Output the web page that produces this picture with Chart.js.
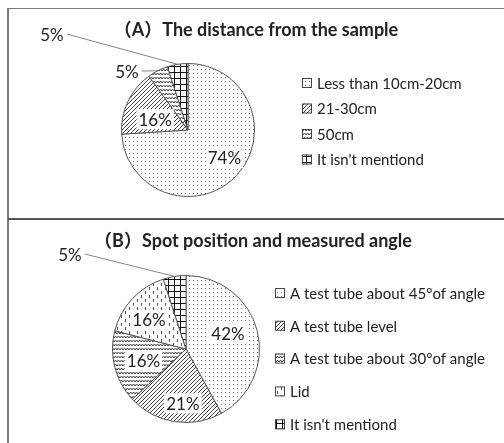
<!DOCTYPE html>
<html>
<head>
<meta charset="utf-8">
<script src="https://cdn.jsdelivr.net/npm/chart.js@4"></script>
<style>
  body { margin: 0; background: #fff; }
  #wrap { position: relative; width: 504px; height: 443px; overflow: hidden; }
  .panel { position: absolute; left: 0; width: 504px; }
  .line { position: absolute; background: #7a7a7a; }
</style>
</head>
<body>
<div id="wrap">
  <div class="panel" style="top:0;height:219px"><canvas id="chartA"></canvas></div>
  <div class="panel" style="top:219px;height:224px"><canvas id="chartB"></canvas></div>
  <div class="line" style="left:8px;top:8px;width:496px;height:1px"></div>
  <div class="line" style="left:7px;top:8px;width:2px;height:435px"></div>
  <div class="line" style="left:8px;top:218px;width:496px;height:2px;background:#555"></div>
</div>
<script>
// Datos de los dos gráficos de pastel
const titleA = '（A）The distance from the sample';
const labelsA = ['Less than 10cm-20cm', '21-30cm', '50cm', "It isn't mentiond"];
const valuesA = [74, 16, 5, 5];
const patternsA = ['dots', 'diag', 'wave', 'grid'];

const titleB = '（B）Spot position and measured angle';
const labelsB = ['A test tube about 45°of angle', 'A test tube level', 'A test tube about 30°of angle', 'Lid', "It isn't mentiond"];
const valuesB = [42, 21, 16, 16, 5];
const patternsB = ['dots', 'diag', 'wave', 'lid', 'grid'];

const FONT = 'Lato, "Noto Sans CJK JP", sans-serif';

// Crea los patrones de relleno (estilo Excel en blanco y negro)
function makePattern(kind) {
    const c = document.createElement('canvas');
    const g = c.getContext('2d');
    if (kind === 'dots') {
        c.width = 4; c.height = 4;
        g.fillStyle = '#fff'; g.fillRect(0, 0, 4, 4);
        g.fillStyle = '#7a7a7a';
        g.fillRect(1, 1, 1, 1);
    } else if (kind === 'diag') {
        c.width = 4; c.height = 4;
        g.fillStyle = '#fff'; g.fillRect(0, 0, 4, 4);
        g.strokeStyle = '#444'; g.lineWidth = 1;
        g.beginPath();
        g.moveTo(-1, 5); g.lineTo(5, -1);
        g.moveTo(-1, 1); g.lineTo(1, -1);
        g.moveTo(3, 5); g.lineTo(5, 3);
        g.stroke();
    } else if (kind === 'wave') {
        c.width = 6; c.height = 4;
        g.fillStyle = '#fff'; g.fillRect(0, 0, 6, 4);
        g.strokeStyle = '#444'; g.lineWidth = 1;
        g.beginPath();
        g.moveTo(0, 3); g.lineTo(1.5, 1); g.lineTo(3, 3); g.lineTo(4.5, 1); g.lineTo(6, 3);
        g.stroke();
    } else if (kind === 'grid') {
        c.width = 6; c.height = 6;
        g.fillStyle = '#fff'; g.fillRect(0, 0, 6, 6);
        g.fillStyle = '#111';
        g.fillRect(0, 0, 6, 1);
        g.fillRect(0, 0, 1, 6);
    } else if (kind === 'lid') {
        c.width = 8; c.height = 8;
        g.fillStyle = '#fff'; g.fillRect(0, 0, 8, 8);
        g.fillStyle = '#555';
        g.fillRect(1, 0, 1, 3);
        g.fillRect(5, 4, 1, 3);
    }
    return g.createPattern(c, 'repeat');
}

// Plugin: título, leyenda con muestras de patrón y etiquetas de porcentaje
const pieDecor = {
    id: 'pieDecor',
    afterDraw(chart, args, opts) {
        const ctx = chart.ctx;
        const meta = chart.getDatasetMeta(0);
        const ds = chart.data.datasets[0];
        ctx.save();

        // título
        ctx.fillStyle = '#222';
        ctx.font = 'bold 18px ' + FONT;
        ctx.textAlign = 'center';
        ctx.textBaseline = 'alphabetic';
        ctx.fillText(opts.title, opts.titleX, opts.titleY);

        // leyenda
        ctx.font = '15px ' + FONT;
        ctx.textAlign = 'left';
        ctx.textBaseline = 'middle';
        chart.data.labels.forEach((lab, i) => {
            const y = opts.legendY + i * opts.legendGap;
            ctx.fillStyle = ds.backgroundColor[i];
            ctx.fillRect(opts.legendX, y - 5, 10, 10);
            ctx.strokeStyle = '#444';
            ctx.lineWidth = 1;
            ctx.strokeRect(opts.legendX + 0.5, y - 4.5, 9, 9);
            ctx.fillStyle = '#222';
            ctx.fillText(lab, opts.legendX + 15, y + 1);
        });

        // etiquetas
        ctx.font = '17px ' + FONT;
        ctx.textAlign = 'center';
        meta.data.forEach((arc, i) => {
            const p = arc.getProps(['x', 'y', 'startAngle', 'endAngle', 'outerRadius']);
            const mid = (p.startAngle + p.endAngle) / 2;
            const text = chart.data.datasets[0].data[i] + '%';
            const pos = opts.labelPos[i];
            if (pos.out) {
                const lx = pos.out[0], ly = pos.out[1];
                const w = ctx.measureText(text).width;
                ctx.strokeStyle = '#666';
                ctx.lineWidth = 0.8;
                ctx.beginPath();
                ctx.moveTo(lx + w / 2 + 3, ly - 1);
                ctx.lineTo(p.x + Math.cos(mid) * p.outerRadius, p.y + Math.sin(mid) * p.outerRadius);
                ctx.stroke();
                ctx.fillStyle = '#222';
                ctx.fillText(text, lx, ly + 1);
            } else {
                const r = p.outerRadius * pos.r;
                const x = p.x + Math.cos(mid + (pos.da || 0)) * r;
                const y = p.y + Math.sin(mid + (pos.da || 0)) * r;
                const w = ctx.measureText(text).width;
                ctx.fillStyle = '#fff';
                ctx.fillRect(x - w / 2 - 2, y - 10, w + 4, 20);
                ctx.fillStyle = '#222';
                ctx.fillText(text, x, y + 1);
            }
        });
        ctx.restore();
    }
};

function crearPastel(id, labels, values, patterns, decor, padding) {
    const ctx = document.getElementById(id).getContext('2d');
    return new Chart(ctx, {
        type: 'pie',
        data: {
            labels: labels,
            datasets: [{
                data: values,
                backgroundColor: patterns.map(makePattern),
                borderColor: '#555',
                borderWidth: 1
            }]
        },
        options: {
            responsive: true,
            maintainAspectRatio: false,
            animation: false,
            layout: { padding: padding },
            plugins: {
                legend: { display: false },
                tooltip: { enabled: false },
                pieDecor: decor
            }
        },
        plugins: [pieDecor]
    });
}

crearPastel('chartA', labelsA, valuesA, patternsA, {
    title: titleA, titleX: 256, titleY: 36,
    legendX: 302, legendY: 83, legendGap: 25.5,
    labelPos: [{ r: 0.69, da: -0.1 }, { r: 0.52, da: -0.12 }, { out: [127, 72] }, { out: [52, 35] }]
}, { left: 121, right: 249, top: 63, bottom: 22 });

crearPastel('chartB', labelsB, valuesB, patternsB, {
    title: titleB, titleX: 253, titleY: 28,
    legendX: 275, legendY: 74, legendGap: 32.8,
    labelPos: [{ r: 0.61, da: -0.11 }, { r: 0.74, da: -0.1 }, { r: 0.6, da: -0.02 }, { r: 0.64, da: -0.09 }, { out: [70, 36] }]
}, { left: 112, right: 244, top: 56, bottom: 20 });
</script>
</body>
</html>
